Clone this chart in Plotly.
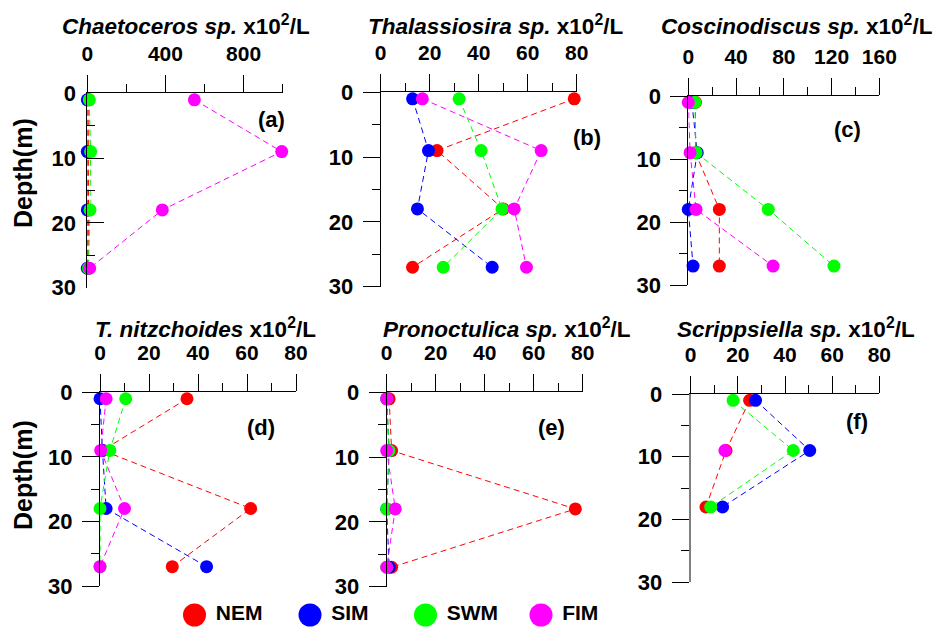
import plotly.graph_objects as go

# ---------------- data ----------------
depths = [1, 9, 18, 27]
seasons = ["NEM", "SIM", "SWM", "FIM"]
season_colors = ["#FF0000", "#0000FF", "#00FF00", "#FF00FF"]

chaetoceros = {"NEM": [8, 8, 6, 4], "SIM": [0, 0, 0, 0],
               "SWM": [10, 17, 14, 6], "FIM": [548, 995, 384, 12]}
thalassiosira = {"NEM": [79, 23, 50, 13], "SIM": [13, 19.5, 15, 45.5],
                 "SWM": [32, 41, 49.5, 25.5], "FIM": [17, 65.5, 54.5, 59.5]}
coscinodiscus = {"NEM": [6, 6, 26, 26], "SIM": [3, 7.5, 0, 4],
                 "SWM": [5.5, 6.5, 67, 122], "FIM": [0, 1.5, 6.5, 71]}
t_nitzchoides = {"NEM": [35.5, 1, 61.5, 29.5], "SIM": [0, 1, 2.5, 43.5],
                 "SWM": [10.5, 4, 0, 0], "FIM": [2.5, 0.3, 10, 0]}
pronoctulica = {"NEM": [1, 2, 77, 2], "SIM": [0, 1, 0, 1],
                "SWM": [0, 1, 0, 0], "FIM": [0, 0, 3.5, 0]}
scrippsiella = {"NEM": [25, 15, 6.5, None], "SIM": [27.5, 50.5, 13.5, None],
                "SWM": [18, 43.5, 8.5, None], "FIM": [None, 14.5, None, None]}

panels = [chaetoceros, thalassiosira, coscinodiscus,
          t_nitzchoides, pronoctulica, scrippsiella]
species = ["Chaetoceros sp.", "Thalassiosira sp.", "Coscinodiscus sp.",
           "T. nitzchoides", "Pronoctulica sp.", "Scrippsiella sp."]
tags = ["(a)", "(b)", "(c)", "(d)", "(e)", "(f)"]
x_max = [1000, 80, 160, 80, 80, 80]
x_major = [400, 20, 40, 20, 20, 20]
x_minor = [200, 10, 20, 10, 10, 10]

# ---------------- layout geometry (pixels) ----------------
W, H = 941, 628
# (x_left, x_right, y_top, y_bottom) of each panel's axes
boxes = [(87.3, 282.7, 93.3, 287.7), (380.7, 576.7, 92.3, 286.7),
         (688.3, 879.3, 96.0, 285.0), (100.0, 296.0, 392.3, 586.0),
         (386.7, 582.7, 392.3, 586.7), (690.7, 879.3, 394.0, 582.3)]
title_cx = [186, 496, 797, 205, 507, 796]
title_cy = [25, 25, 25, 328, 328, 328]
tag_pos = [(287, 119), (603, 137), (863, 129), (277, 427), (567, 427), (870, 421)]

FONT = "Liberation Sans, Arial, sans-serif"

fig = go.Figure()
layout = dict(width=W, height=H,
              margin=dict(l=0, r=0, t=0, b=0, autoexpand=False),
              paper_bgcolor="white", plot_bgcolor="white", showlegend=False,
              font=dict(family=FONT, color="black"))
annotations = []

for i, data in enumerate(panels):
    k = i + 1
    xa = "x" if k == 1 else f"x{k}"
    ya = "y" if k == 1 else f"y{k}"
    for s, c in zip(seasons, season_colors):
        fig.add_trace(go.Scatter(
            x=data[s], y=depths, xaxis=xa, yaxis=ya, mode="lines+markers",
            line=dict(color=c, width=1, dash="6px,4px"),
            marker=dict(color=c, size=13), cliponaxis=False, name=s))
    xl, xr, yt, yb = boxes[i]
    xkey = "xaxis" if k == 1 else f"xaxis{k}"
    ykey = "yaxis" if k == 1 else f"yaxis{k}"
    layout[xkey] = dict(
        domain=[xl / W, xr / W], anchor=ya, side="top", range=[0, x_max[i]],
        tick0=0, dtick=x_major[i], ticks="outside", ticklen=17, tickwidth=1,
        tickcolor="black", showline=True, linecolor="black", linewidth=1,
        showgrid=False, zeroline=False, ticklabelstandoff=6, automargin=False,
        tickfont=dict(size=21, family=FONT, weight="bold", color="black"),
        minor=dict(dtick=x_minor[i], tick0=0, ticks="outside", ticklen=8,
                   tickcolor="black", showgrid=False))
    yticks = "inside" if i == 0 else "outside"
    ycol = "#808080" if i == 5 else "black"
    layout[ykey] = dict(
        domain=[1 - yb / H, 1 - yt / H], anchor=xa, range=[30, 0],
        tick0=0, dtick=10, ticks=yticks, ticklen=17, tickwidth=1,
        tickcolor="black", showline=True, linecolor=ycol,
        linewidth=(2 if i == 5 else 1), automargin=False,
        showgrid=False, zeroline=False,
        ticklabelstandoff=(6 if i == 0 else 5),
        tickfont=dict(size=22, family=FONT, weight="bold", color="black"),
        minor=dict(dtick=5, tick0=0, ticks=yticks, ticklen=8,
                   tickcolor="black", showgrid=False))
    annotations.append(dict(
        xref="paper", yref="paper", x=title_cx[i] / W, y=1 - title_cy[i] / H,
        xanchor="center", yanchor="middle", showarrow=False,
        text=f"<b><i>{species[i]}</i> x10<sup>2</sup>/L</b>",
        font=dict(size=22.5, family=FONT, color="black")))
    annotations.append(dict(
        xref="paper", yref="paper", x=tag_pos[i][0] / W, y=1 - tag_pos[i][1] / H,
        xanchor="right", yanchor="middle", showarrow=False,
        text=f"<b>{tags[i]}</b>", font=dict(size=22, family=FONT, color="black")))

for cy in (173, 475):
    annotations.append(dict(
        xref="paper", yref="paper", x=23 / W, y=1 - cy / H, textangle=-90,
        xanchor="center", yanchor="middle", showarrow=False,
        text="<b>Depth(m)</b>", font=dict(size=25, family=FONT, color="black")))

# legend row drawn as its own categorical axis
fig.add_trace(go.Scatter(
    x=seasons, y=[0] * len(seasons), xaxis="x7", yaxis="y7",
    mode="markers+text", text=[" " + s for s in seasons],
    textposition="middle right",
    textfont=dict(size=21, family=FONT, weight="bold", color="black"),
    marker=dict(color=season_colors, size=23), cliponaxis=False))
leg_step = (541 - 194.5) / 3
layout["xaxis7"] = dict(domain=[(194.5 - leg_step / 2) / W, (541 + leg_step / 2) / W],
                        anchor="y7", range=[-0.5, 3.5], visible=False,
                        type="category", automargin=False)
layout["yaxis7"] = dict(domain=[1 - 625 / H, 1 - 605 / H], anchor="x7",
                        range=[-1, 1], visible=False, automargin=False)

layout["annotations"] = annotations
fig.update_layout(**layout)
fig.write_html("out.html")
